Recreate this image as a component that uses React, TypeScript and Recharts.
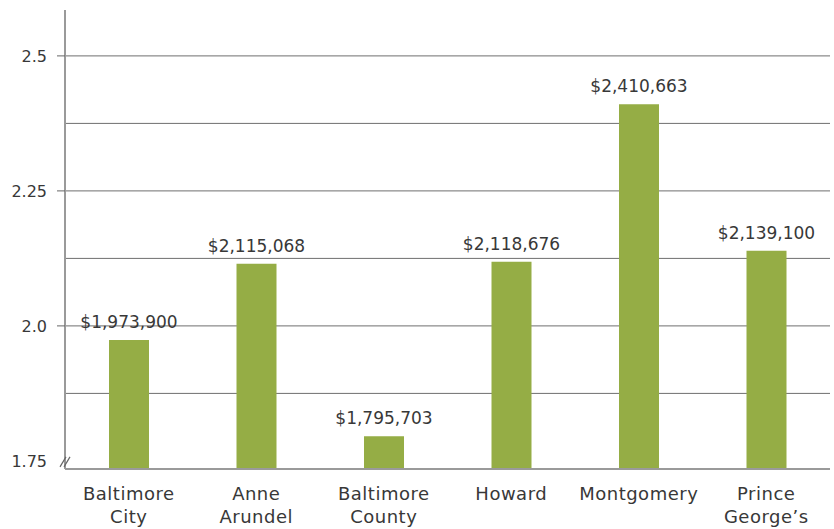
import { BarChart, Bar, XAxis, YAxis, CartesianGrid, LabelList } from 'recharts'

const counties = ['Baltimore City', 'Anne Arundel', 'Baltimore County', 'Howard', 'Montgomery', 'Prince George’s']
const medianPrices = [1973900, 2115068, 1795703, 2118676, 2410663, 2139100]
const yTicks = [1.75, 1.875, 2, 2.125, 2.25, 2.375, 2.5]
const yLabels = [1.75, 2, 2.25, 2.5]
const gridValues = [1.875, 2, 2.125, 2.25, 2.375, 2.5]

const data = counties.map((name, i) => ({
  name,
  price: medianPrices[i],
  value: medianPrices[i] / 1e6,
}))

const FONT = '"DejaVu Sans", sans-serif'
const TEXT = '#383838'

function YTick(props: any) {
  const { x, y, payload } = props
  const v = payload.value
  if (!yLabels.includes(v)) return null
  const label = v === 2 ? '2.0' : String(v)
  return (
    <g>
      <text x={x - 10} y={y} dy={6} textAnchor="end" fill={TEXT} fontSize={16} fontFamily={FONT}>
        {label}
      </text>
      {v === 1.75 ? (
        <g stroke="#666" strokeWidth={1.2}>
          <line x1={x + 3} y1={y + 6} x2={x + 9} y2={y - 4} />
          <line x1={x + 7} y1={y + 6} x2={x + 13} y2={y - 4} />
        </g>
      ) : (
        <line x1={x} y1={y} x2={x + 8} y2={y} stroke="#666" strokeWidth={1} />
      )}
    </g>
  )
}

function XTick(props: any) {
  const { x, y, payload } = props
  const name: string = payload.value
  const idx = name.indexOf(' ')
  const lines = idx > 0 ? [name.slice(0, idx), name.slice(idx + 1)] : [name]
  return (
    <text x={x} y={y} textAnchor="middle" fill={TEXT} fontSize={18} letterSpacing={0.5} fontFamily={FONT}>
      {lines.map((l, i) => (
        <tspan key={i} x={x} dy={23}>
          {l}
        </tspan>
      ))}
    </text>
  )
}

export default function App() {
  return (
    <div style={{ position: 'absolute', left: 0, top: 0, background: '#fff' }}>
      <BarChart
        width={834}
        height={529}
        data={data}
        margin={{ top: 10, right: 4, bottom: 0, left: 0 }}
        barCategoryGap={0}
      >
        <CartesianGrid vertical={false} horizontalValues={gridValues} stroke="#6e6e6e" strokeWidth={1} />
        <XAxis
          dataKey="name"
          interval={0}
          height={60}
          tickSize={8}
          tickMargin={0}
          tickLine={false}
          axisLine={{ stroke: '#9a9a9a', strokeWidth: 2 }}
          tick={<XTick />}
        />
        <YAxis
          type="number"
          domain={[1.735, 2.585]}
          ticks={yTicks}
          allowDataOverflow
          width={65}
          tickSize={8}
          tickMargin={0}
          tickLine={false}
          axisLine={{ stroke: '#9a9a9a', strokeWidth: 2 }}
          tick={<YTick />}
        />
        <Bar dataKey="value" fill="#95ad45" barSize={40} isAnimationActive={false}>
          <LabelList
            dataKey="price"
            position="top"
            offset={12}
            fill={TEXT}
            fontSize={17}
            fontFamily={FONT}
            formatter={(v: any) => '$' + Number(v).toLocaleString('en-US')}
          />
        </Bar>
      </BarChart>
    </div>
  )
}
